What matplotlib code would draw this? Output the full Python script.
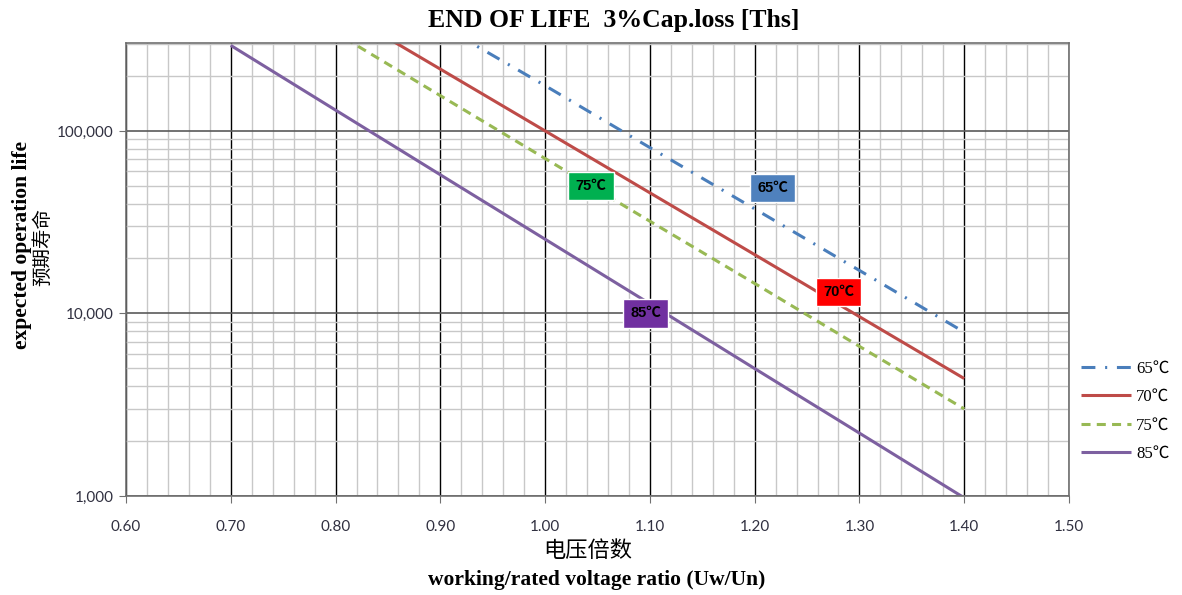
import matplotlib
matplotlib.use('Agg')
import matplotlib.pyplot as plt
import matplotlib.ticker as mticker
import numpy as np

# voltage ratio points and expected life (hours)
voltage_ratio = [0.70, 0.80, 0.90, 1.00, 1.10, 1.20, 1.30, 1.40]
life_65 = [1500000, 820000, 380000, 177000, 81000, 37400, 17200, 7900]
life_70 = [1050000, 475000, 218000, 100000, 45800, 21000, 9600, 4400]
life_75 = [765000, 345000, 156000, 70600, 32000, 14600, 6600, 3000]
life_85 = [294000, 130000, 57500, 25500, 11300, 4990, 2210, 977]

series_names = ['65℃', '70℃', '75℃', '85℃']
series_data = [life_65, life_70, life_75, life_85]

# in-plot callout boxes: (text, x, y, box colour)
callouts = [('65℃', 1.217, 48700, '#4F81BD'),
            ('70℃', 1.280, 13100, '#FF0000'),
            ('75℃', 1.044, 50000, '#00B050'),
            ('85℃', 1.096, 10000, '#7030A0')]

plt.rcParams['lines.scale_dashes'] = False
serif = ['Liberation Serif', 'DejaVu Serif']

fig = plt.figure(figsize=(11.82, 5.95), dpi=100)
ax = fig.add_axes([0.1066, 0.1664, 0.7978, 0.7613])

colors = ['#4A7EBB', '#BE4B48', '#98B954', '#7D60A0']
styles = [(0, (10, 7, 1.5, 7)), '-', (0, (6.5, 4.5)), '-']
for name, vals, c, ls in zip(series_names, series_data, colors, styles):
    ax.plot(voltage_ratio, vals, color=c, linestyle=ls, linewidth=2.2,
            label=name, solid_capstyle='butt', dash_capstyle='butt')

ax.set_yscale('log')
ax.set_xlim(0.6, 1.5)
ax.set_ylim(1000, 303000)

ax.xaxis.set_major_locator(mticker.MultipleLocator(0.1))
ax.xaxis.set_minor_locator(mticker.MultipleLocator(0.02))
ax.xaxis.set_major_formatter(mticker.FormatStrFormatter('%.2f'))
ax.yaxis.set_major_locator(mticker.LogLocator(base=10, numticks=10))
ax.yaxis.set_minor_locator(mticker.LogLocator(base=10, subs=np.arange(2, 10), numticks=20))
ax.yaxis.set_major_formatter(mticker.FuncFormatter(lambda v, p: f'{v:,.0f}'))
ax.yaxis.set_minor_formatter(mticker.NullFormatter())

ax.grid(which='minor', axis='both', color='#C8C8C8', linewidth=1.0)
ax.grid(which='major', axis='x', color='#000000', linewidth=1.0)
ax.grid(which='major', axis='y', color='#5A5A5A', linewidth=1.2)
ax.set_axisbelow(True)

for s in ax.spines.values():
    s.set_color('#707070')
    s.set_linewidth(1.2)

ax.tick_params(which='major', length=5, color='#707070', labelsize=11,
               labelcolor='#303040', pad=4)
ax.tick_params(which='minor', length=0)
ax.tick_params(axis='x', pad=12)
for lab in ax.get_xticklabels() + ax.get_yticklabels():
    lab.set_family(['Lato', 'DejaVu Sans'])

for txt, x, y, bc in callouts:
    ax.text(x, y, txt, ha='center', va='center', fontsize=10.5, fontweight='bold',
            family=['Liberation Sans', 'Noto Sans CJK SC'], color='black',
            bbox=dict(boxstyle='square,pad=0.5', facecolor=bc, edgecolor='white', linewidth=1))

fig.text(0.519, 0.966, 'END OF LIFE  3%Cap.loss [Ths]', ha='center', va='center',
         fontsize=18.5, fontweight='bold', family=serif)
fig.text(0.497, 0.075, '电压倍数', ha='center', va='center', fontsize=16,
         family=['Noto Sans CJK SC'])
fig.text(0.505, 0.026, 'working/rated voltage ratio (Uw/Un)', ha='center', va='center',
         fontsize=15.5, fontweight='bold', family=serif)
fig.text(0.019, 0.588, 'expected operation life', ha='center', va='center', rotation=90,
         fontsize=15.5, fontweight='bold', family=serif)
fig.text(0.036, 0.585, '预期寿命', ha='center', va='center', rotation=90,
         fontsize=14, family=['Noto Sans CJK SC'])

leg = fig.legend(loc='upper left', bbox_to_anchor=(0.902, 0.419), frameon=False,
                 handlelength=3.0, labelspacing=0.75, handletextpad=0.3,
                 prop={'family': ['Liberation Serif', 'Noto Sans CJK SC'], 'size': 12})

fig.savefig('out.png', dpi=100)
